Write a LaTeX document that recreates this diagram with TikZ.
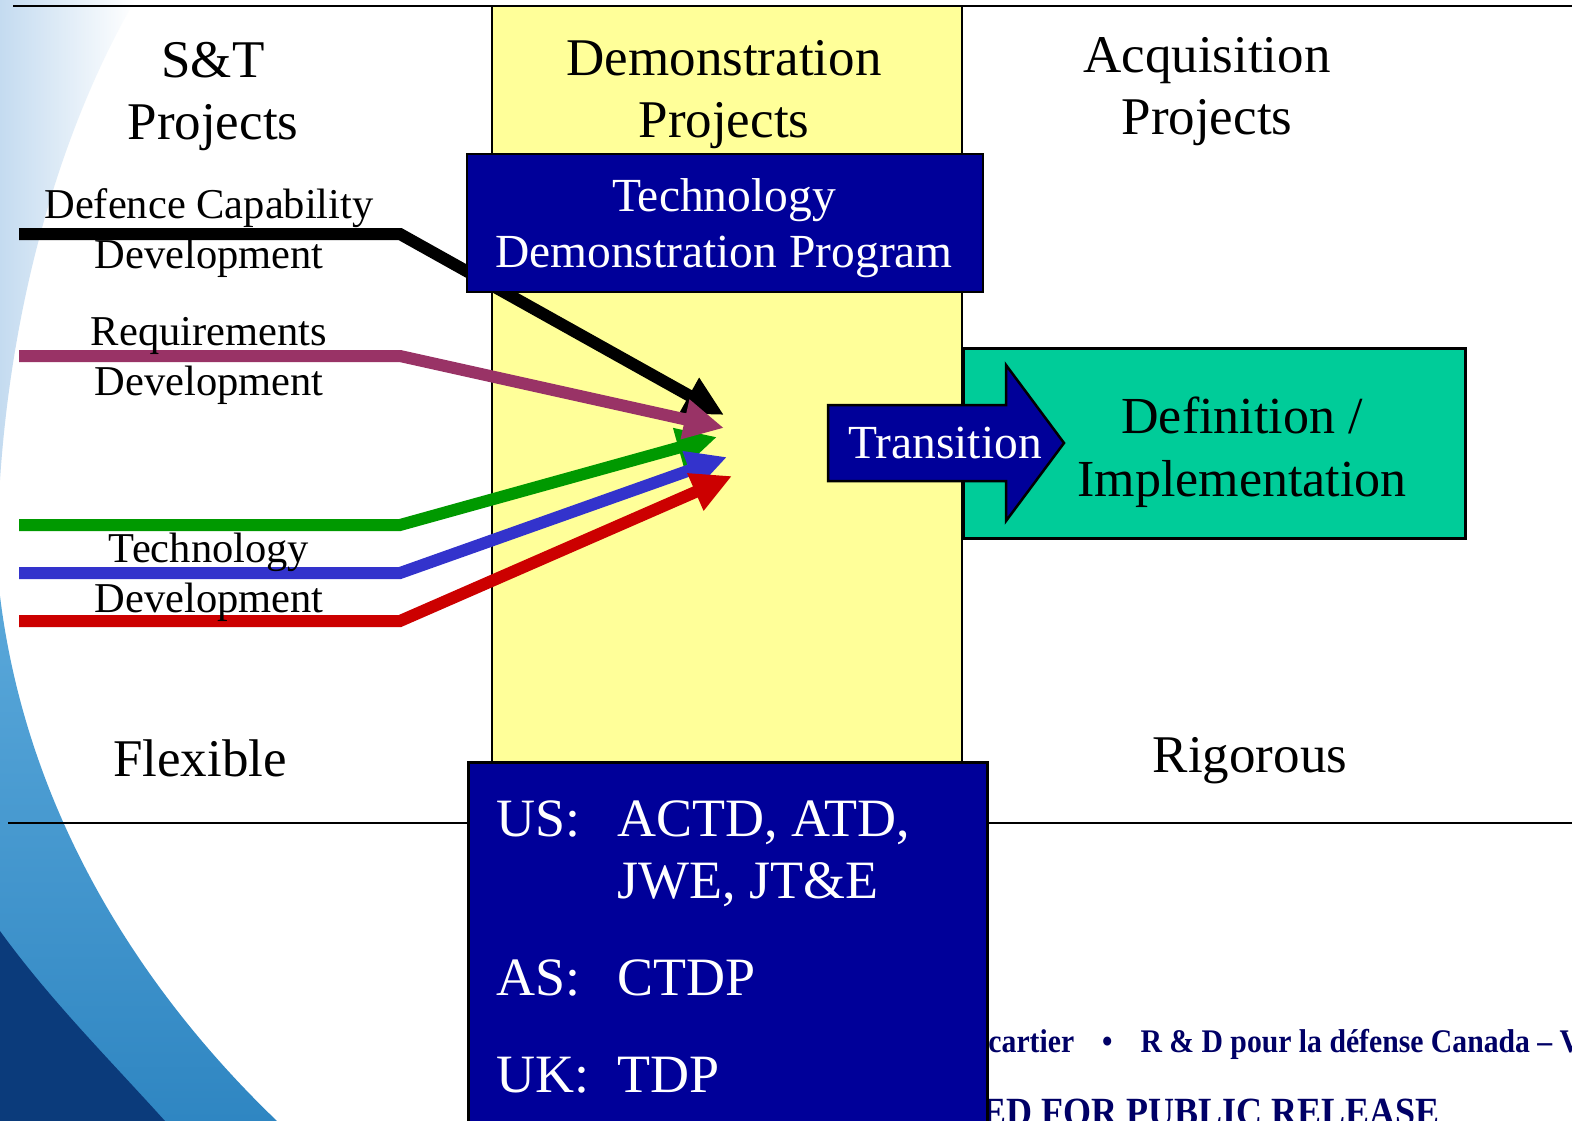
\documentclass[tikz,border=0pt]{standalone}
\usepackage{fontspec}
\setmainfont{Liberation Serif}
\newfontfamily\footfont[FakeStretch=0.9]{Liberation Serif}
\usetikzlibrary{arrows.meta}
\definecolor{colyellow}{HTML}{FFFF99}
\definecolor{boxnavy}{HTML}{000099}
\definecolor{boxgreen}{HTML}{00CC99}
\definecolor{reqpurple}{HTML}{993366}
\definecolor{techgreen}{HTML}{009900}
\definecolor{techblue}{HTML}{3333CC}
\definecolor{techred}{HTML}{CC0000}
\definecolor{footnavy}{HTML}{000066}
\definecolor{swpale}{HTML}{C4DBF0}
\definecolor{swmid}{HTML}{2F86C2}
\definecolor{swmidlight}{HTML}{5AA8DA}
\definecolor{swdark}{HTML}{0B3B7B}

\begin{document}
\begin{tikzpicture}[x=1pt,y=-1pt,
  headtxt/.style={font=\fontsize{53}{62}\selectfont, align=center, inner sep=0pt},
  streamtxt/.style={font=\fontsize{42.5}{50}\selectfont, align=center, inner sep=0pt},
  boxtxt/.style={font=\fontsize{47.5}{56}\selectfont, align=center, inner sep=0pt, text=white},
  listtxt/.style={font=\fontsize{54}{62}\selectfont, inner sep=0pt, text=white, anchor=base west},
  navybox/.style={draw=black, line width=2.5pt, fill=boxnavy, rectangle, inner sep=0pt},
  flow/.style={line width=12pt, line join=miter, -{Triangle[length=40pt,width=38pt]}},
  foot/.style={text=footnavy, inner sep=0pt, anchor=base west}]
  \useasboundingbox (0,0) rectangle (1572,1121);
  %%%%% BACKGROUND %%%%%
  \fill[white] (0,0) rectangle (1572,1121);
  \shade[left color=swpale, right color=white] (0,0) -- (135,0) .. controls (60,130) and (12,300) .. (0,480) -- cycle;
  \shade[top color=swmidlight, bottom color=swmid] (0,596) .. controls (25,800) and (130,980) .. (277,1121) -- (0,1121) -- cycle;
  \fill[swdark] (0,931) .. controls (50,1000) and (110,1060) .. (165,1121) -- (0,1121) -- cycle;

  \draw[line width=2.5pt] (13,6) -- (1572,6);
  \draw[line width=2pt] (8,823) -- (1572,823);

  %%%%% DEMONSTRATION COLUMN %%%%%
  \draw[fill=colyellow, line width=2.5pt] (492,6) rectangle (962,790);

  %%%%% STREAMS %%%%%
  \coordinate (dcdA) at (19,234);  \coordinate (dcdB) at (400,234);  \coordinate (dcdC) at (724,415);
  \coordinate (reqA) at (19,356);  \coordinate (reqB) at (400,356);  \coordinate (reqC) at (724,428);
  \coordinate (tgA) at (19,525);   \coordinate (tgB) at (400,525);   \coordinate (tgC) at (717,437);
  \coordinate (tbA) at (19,573);   \coordinate (tbB) at (400,573);   \coordinate (tbC) at (727,457);
  \coordinate (trA) at (19,621);   \coordinate (trB) at (400,621);   \coordinate (trC) at (732,476);

  \draw[flow, black] (dcdA) -- (dcdB) -- (dcdC);
  \draw[flow, techgreen] (tgA) -- (tgB) -- (tgC);
  \draw[flow, reqpurple] (reqA) -- (reqB) -- (reqC);
  \draw[flow, techblue] (tbA) -- (tbB) -- (tbC);
  \draw[flow, techred] (trA) -- (trB) -- (trC);

  %%%%% TDP BOX %%%%%
  \node[navybox, minimum width=516pt, minimum height=138pt] (tdpbox) at (725,223) {};
  \node[boxtxt] (tdp) at (724,228) {Technology\\Demonstration Program};

  %%%%% ACQUISITION %%%%%
  \node[draw=black, line width=2.5pt, fill=boxgreen, inner sep=0pt, anchor=north west,
        minimum width=502pt, minimum height=190pt] (acqbox) at (962,347) {};
  \draw[fill=boxnavy, line width=2.5pt, line join=miter]
    (828,405) -- (1006,405) -- (1006,365) -- (1064,443) -- (1006,521) -- (1006,481) -- (828,481) -- cycle;
  \node[boxtxt, anchor=base] (trans) at (945,458) {Transition};
  \node[headtxt, font=\fontsize{52}{63}\selectfont] (defimp) at (1242,452) {Definition /\\Implementation};

  %%%%% FOOTER %%%%%
  \node[foot, font=\footfont\bfseries\fontsize{33}{36}\selectfont] (footA) at (980,1052)
    {lcartier\hspace{28pt}\textbullet\hspace{28pt}R \& D pour la défense Canada – V};
  \node[foot, font=\footfont\bfseries\fontsize{40}{44}\selectfont] (footB) at (982,1125) {ED FOR PUBLIC RELEASE};

  %%%%% NATIONAL PROGRAMS %%%%%
  \node[navybox, anchor=north west, minimum width=519pt, minimum height=380pt] (natbox) at (467,761) {};
  \node[listtxt] (us) at (496,836) {US:};
  \node[listtxt] (usA) at (617,836) {ACTD, ATD,};
  \node[listtxt] (usB) at (617,898) {JWE, JT\&E};
  \node[listtxt] (as) at (496,995) {AS:};
  \node[listtxt] (asA) at (617,995) {CTDP};
  \node[listtxt] (uk) at (496,1092) {UK:};
  \node[listtxt] (ukA) at (617,1092) {TDP};

  %%%%% LABELS %%%%%
  \node[headtxt] (stp) at (213,97) {S\&T\\Projects};
  \node[headtxt] (dmp) at (724,95) {Demonstration\\Projects};
  \node[headtxt] (acp) at (1207,92) {Acquisition\\Projects};
  \node[streamtxt] (dcd) at (209,233) {Defence Capability\\Development};
  \node[streamtxt] (req) at (209,361) {Requirements\\Development};
  \node[streamtxt] (tch) at (209,577.5) {Technology\\Development};
  \node[headtxt, anchor=base] (flx) at (200,776) {Flexible};
  \node[headtxt, anchor=base] (rig) at (1250,772) {Rigorous};
\end{tikzpicture}
\end{document}
